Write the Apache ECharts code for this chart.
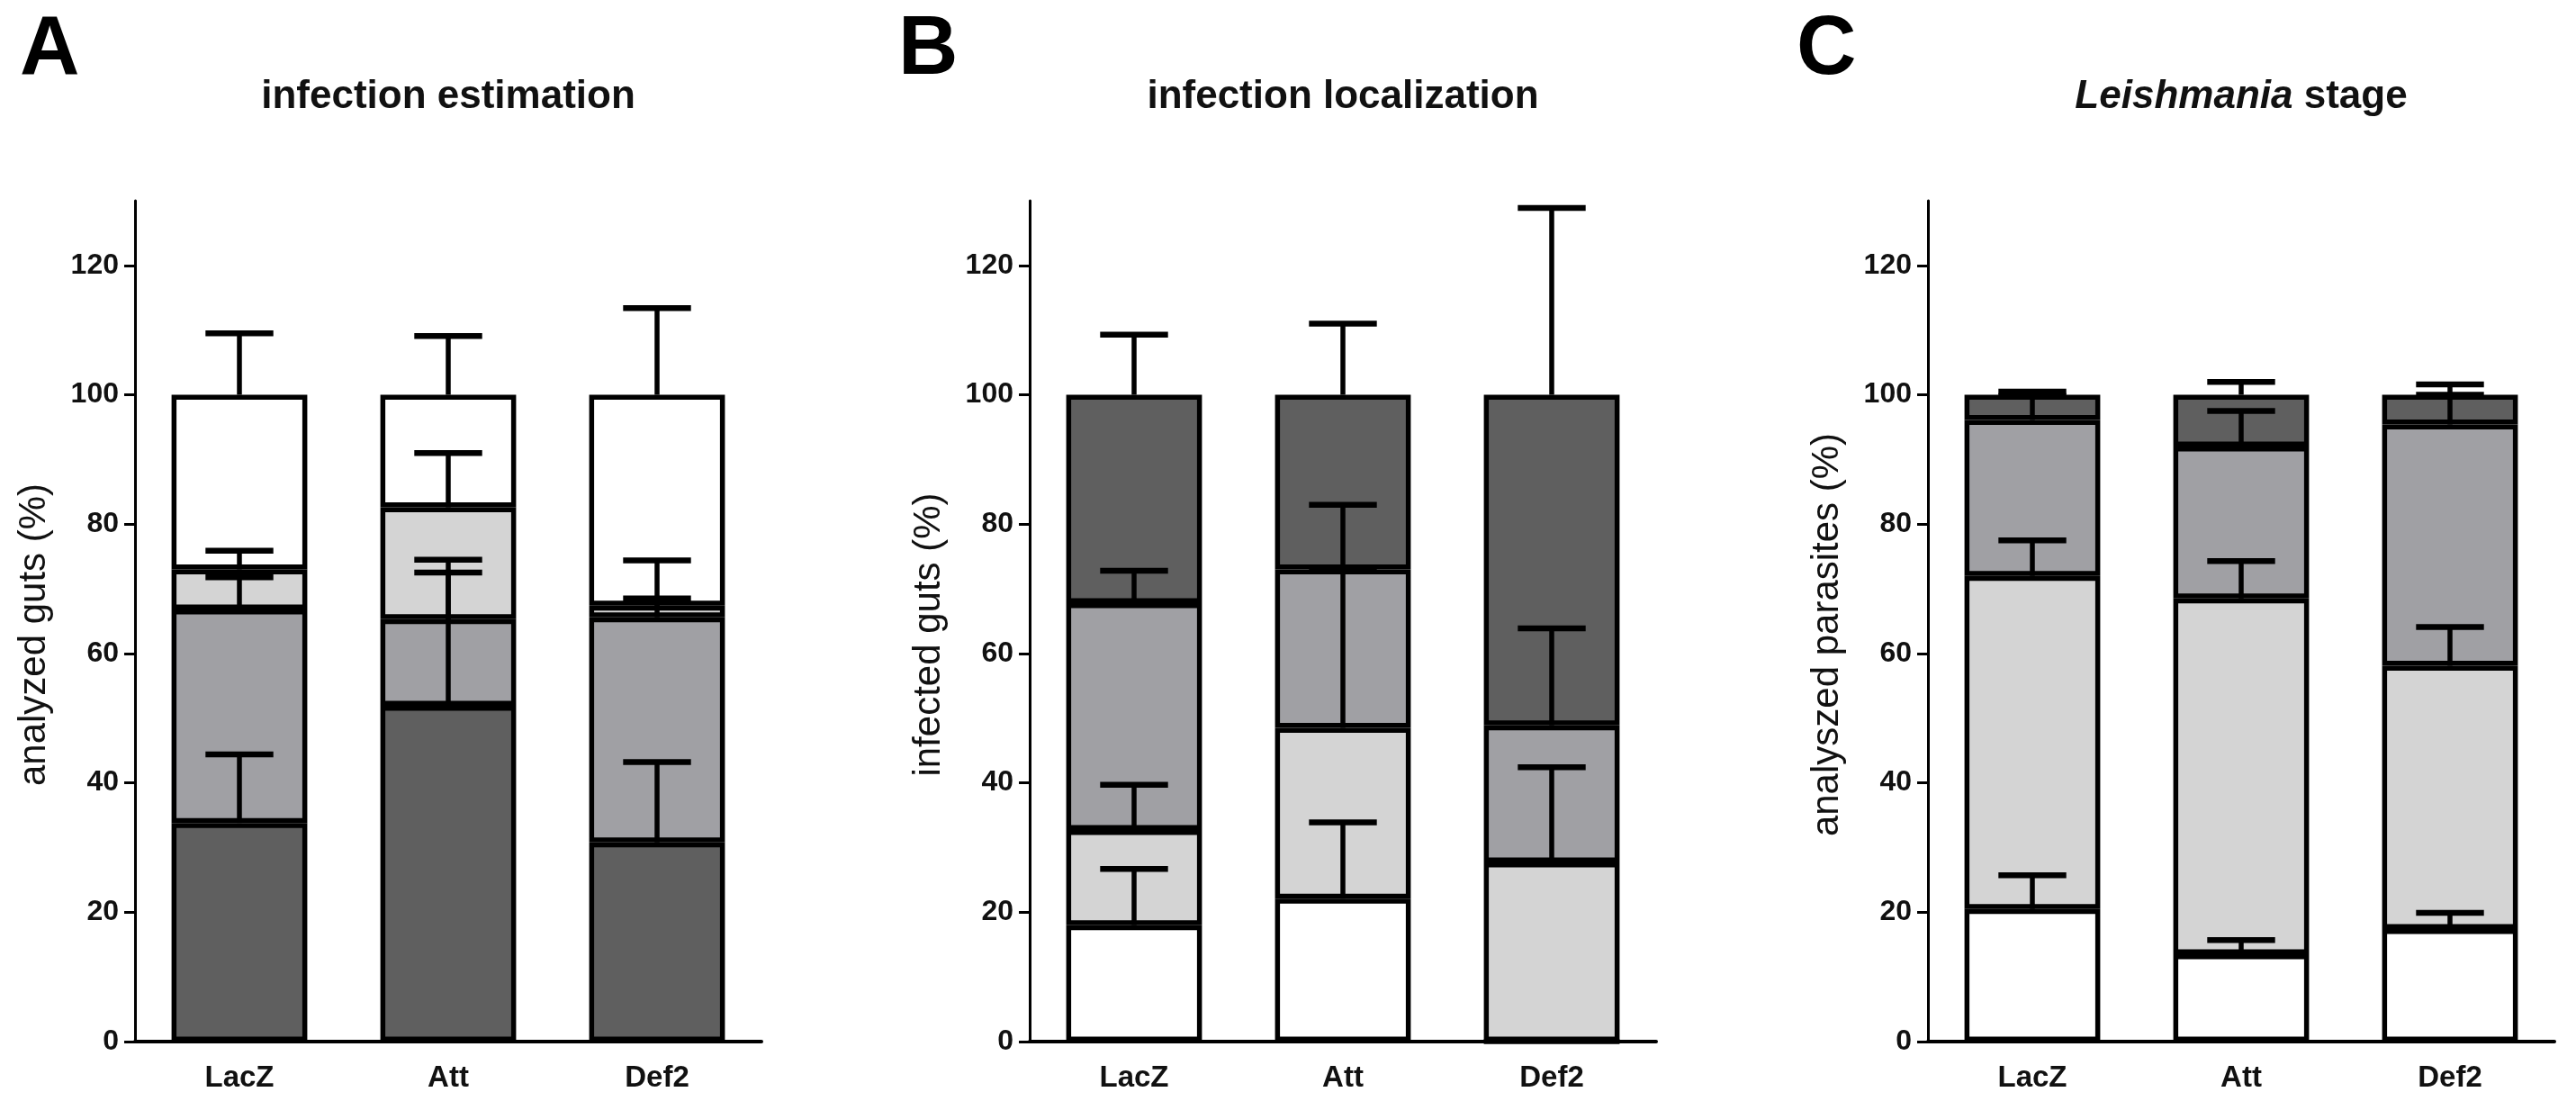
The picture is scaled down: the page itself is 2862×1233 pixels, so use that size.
<!DOCTYPE html>
<html>
<head>
<meta charset="utf-8">
<title>infection</title>
<script src="https://cdn.jsdelivr.net/npm/echarts@6/dist/echarts.min.js"></script>
<style>
  html, body { margin: 0; padding: 0; background: #fff; }
  #chart { width: 2862px; height: 1233px; }
</style>
</head>
<body>
<div id="chart"></div>
<script>
// categories and tick labels
var categories = ['LacZ', 'Att', 'Def2'];
var yTicks = [0, 20, 40, 60, 80, 100, 120];

// A - infection estimation (segments bottom -> top, % of guts)
var aDark  = [33.8, 51.9, 30.8];
var aMid   = [33.0, 13.4, 34.8];
var aLight = [6.2, 17.3, 1.8];
var aWhite = [27.0, 17.4, 32.6];
var aDarkSd  = [10.6, 20.6, 12.4];
var aMidSd   = [5.0, 9.2, 2.9];
var aLightSd = [2.9, 8.4, 7.0];
var aWhiteSd = [9.5, 9.1, 13.4];

// B - infection localization
var bWhite = [18.0, 22.1, 0];
var bLight = [14.7, 26.4, 27.7];
var bMid   = [35.1, 24.5, 21.2];
var bDark  = [32.2, 27.0, 51.1];
var bWhiteSd = [8.7, 11.8, 0];
var bLightSd = [7.0, 24.5, 14.7];
var bMidSd   = [5.0, 10.0, 15.0];
var bDarkSd  = [9.3, 11.0, 28.9];

// C - Leishmania stage
var cWhite = [20.5, 13.5, 17.4];
var cLight = [51.5, 55.0, 40.7];
var cMid   = [24.1, 23.5, 37.3];
var cDark  = [3.9, 8.0, 4.6];
var cWhiteSd = [5.2, 2.2, 2.5];
var cLightSd = [5.5, 5.8, 6.0];
var cMidSd   = [3.7, 5.5, 4.6];
var cDarkSd  = [0.5, 2.0, 1.6];

var DARK = '#5f5f5f', MID = '#a0a0a4', LIGHT = '#d4d4d4', WHITE = '#ffffff';

var panels = [
  { letter: 'A', title: 'infection estimation', yName: 'analyzed guts (%)', left: 150,
    segs: [[aDark, aDarkSd, DARK], [aMid, aMidSd, MID], [aLight, aLightSd, LIGHT], [aWhite, aWhiteSd, WHITE]] },
  { letter: 'B', title: 'infection localization', yName: 'infected guts (%)', left: 1144,
    segs: [[bWhite, bWhiteSd, WHITE], [bLight, bLightSd, LIGHT], [bMid, bMidSd, MID], [bDark, bDarkSd, DARK]] },
  { letter: 'C', title: '{i|Leishmania} stage', yName: 'analyszed parasites (%)', left: 2142,
    segs: [[cWhite, cWhiteSd, WHITE], [cLight, cLightSd, LIGHT], [cMid, cMidSd, MID], [cDark, cDarkSd, DARK]] }
];

var GRID_W = 696, GRID_TOP = 223, GRID_H = 934;
var textFont = '"Liberation Sans", Arial, sans-serif';

function errorItem(params, api) {
  var top = api.value(1), hi = api.value(2);
  if (!(hi > top)) return;
  var p0 = api.coord([api.value(0), top]);
  var p1 = api.coord([api.value(0), hi]);
  var half = api.size([1, 0])[0] * 0.65 / 4;
  return {
    type: 'group',
    children: [
      { type: 'line', shape: { x1: p0[0], y1: p0[1], x2: p1[0], y2: p1[1] },
        style: { stroke: '#000', lineWidth: 5.5 } },
      { type: 'line', shape: { x1: p1[0] - half, y1: p1[1], x2: p1[0] + half, y2: p1[1] },
        style: { stroke: '#000', lineWidth: 6.5 } }
    ]
  };
}

var grids = [], xAxes = [], yAxes = [], series = [], graphics = [];

panels.forEach(function (p, i) {
  grids.push({ left: p.left, top: GRID_TOP, width: GRID_W, height: GRID_H });
  xAxes.push({
    type: 'category', gridIndex: i, data: categories,
    axisLine: { lineStyle: { color: '#000', width: 4 } },
    axisTick: { alignWithLabel: true, length: 13, lineStyle: { color: '#000', width: 3 } },
    axisLabel: { color: '#111', fontSize: 33, fontWeight: 'bold', fontFamily: textFont, margin: 24 },
    splitLine: { show: false }
  });
  yAxes.push({
    type: 'value', gridIndex: i, min: 0, max: 130, interval: 20,
    axisLine: { show: true, lineStyle: { color: '#000', width: 3 } },
    axisTick: { show: true, length: 12, customValues: yTicks, lineStyle: { color: '#000', width: 3 } },
    axisLabel: { color: '#111', fontSize: 32, fontWeight: 'bold', fontFamily: textFont, margin: 18, customValues: yTicks },
    splitLine: { show: false }
  });

  var cum = [0, 0, 0];
  p.segs.forEach(function (s, k) {
    var vals = s[0], sd = s[1];
    series.push({
      type: 'bar', xAxisIndex: i, yAxisIndex: i, stack: 'p' + i,
      barWidth: '65%', data: vals, z: 2,
      itemStyle: { color: s[2], borderColor: '#000', borderWidth: 5.5 }
    });
    var err = [];
    for (var j = 0; j < vals.length; j++) {
      cum[j] += vals[j];
      if (vals[j] > 0) err.push([j, cum[j], cum[j] + sd[j]]);
    }
    series.push({
      type: 'custom', xAxisIndex: i, yAxisIndex: i, z: 5,
      renderItem: errorItem, encode: { x: 0, y: [1, 2] }, data: err
    });
  });

  // panel letter
  graphics.push({
    type: 'text', x: p.left - (i === 0 ? 128 : 146), y: 57,
    style: { text: p.letter, font: 'bold 92px ' + textFont, fill: '#000', textVerticalAlign: 'middle' }
  });
  // panel title
  graphics.push({
    type: 'text', x: p.left + GRID_W / 2, y: 108,
    style: {
      text: p.title, font: 'bold 44px ' + textFont, fill: '#111',
      textAlign: 'center', textVerticalAlign: 'middle',
      rich: { i: { fontStyle: 'italic', fontWeight: 'bold', fontSize: 44, fontFamily: textFont } }
    }
  });
  // y axis title, rotated
  graphics.push({
    type: 'text', x: p.left - 112, y: 705, rotation: Math.PI / 2,
    style: {
      text: p.yName, font: '42px ' + textFont, fill: '#111',
      textAlign: 'center', textVerticalAlign: 'middle'
    }
  });
});

var myChart = echarts.init(document.getElementById('chart'));
var option = {
  backgroundColor: '#fff',
  animation: false,
  grid: grids,
  xAxis: xAxes,
  yAxis: yAxes,
  series: series,
  graphic: graphics
};
myChart.setOption(option);
window.addEventListener('resize', function () {
  myChart.resize();
});
</script>
</body>
</html>
